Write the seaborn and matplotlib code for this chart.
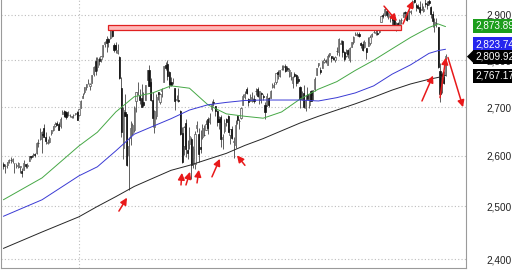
import numpy as np
import pandas as pd
import seaborn as sns
import matplotlib
matplotlib.use("Agg")
import matplotlib.pyplot as plt
from matplotlib.patches import Rectangle, Polygon
from matplotlib.ticker import FixedLocator, FixedFormatter, NullLocator

# ---- daily OHLC, S&P 500, Nov 1 2017 .. Oct 16 2018 (41 days in 2017, 200 in 2018) ----
opens = [2583,2579,2581,2587,2592,2590,2585,2580,2577,2577,2570,2572,2583,2580,2589,2600,2600,2603,2606,2627,2634,
         2645,2657,2639,2627,2628,2646,2652,2661,2667,2665,2660,2685,2692,2689,2683,2683,2680,2683,2686,2690,
         2684,2698,2719,2731,2743,2751,2745,2752,2771,2799,2785,2803,2803,2809,2836,2846,2846,2848,2867,2833,2833,
         2816,2808,2741,2615,2690,2686,2602,2636,2646,2652,2713,2728,2723,2720,2711,2716,2758,2780,2754,
         2716,2659,2681,2731,2711,2733,2753,2790,2792,2775,2754,2750,2741,2715,2715,2692,2646,2619,2668,2611,2625,
         2634,2596,2584,2657,2645,2618,2638,2643,2653,2675,2670,2697,2711,2702,2693,2675,2680,2635,2651,2675,2682,
         2643,2654,2628,2622,2681,2671,2678,2705,2722,2738,2718,2712,2719,2718,2735,2739,2714,2730,2724,2705,2702,2720,
         2719,2742,2748,2754,2775,2765,2781,2785,2787,2784,2777,2766,2752,2770,2769,2760,2743,2722,2729,2699,2727,
         2704,2733,2725,2738,2769,2789,2780,2784,2797,2799,2789,2811,2809,2805,2800,2821,2817,2836,2842,2819,2810,
         2822,2800,2829,2840,2856,2857,2858,2838,2836,2828,2827,2831,2838,2853,2861,2860,2860,2862,2885,2901,2900,2909,2898,
         2897,2892,2889,2868,2881,2871,2888,2896,2906,2903,2890,2906,2919,2937,2922,2921,2917,2912,2910,
         2926,2924,2932,2919,2903,2878,2883,2874,2777,2770,2763,2768]
highs = [2588,2583,2588,2593,2598,2595,2586,2585,2587,2579,2576,2591,2583,2585,2600,2600,2605,2606,2628,2635,2657,
         2650,2665,2648,2634,2641,2652,2660,2669,2671,2669,2680,2695,2694,2692,2693,2685,2682,2685,2688,2693,
         2696,2715,2729,2743,2749,2760,2750,2768,2788,2808,2807,2806,2810,2833,2843,2853,2848,2873,2871,2838,2840,
         2836,2809,2763,2701,2728,2686,2639,2672,2668,2702,2731,2754,2738,2748,2732,2747,2780,2789,2761,
         2731,2694,2728,2732,2730,2741,2787,2797,2801,2777,2763,2762,2741,2725,2740,2695,2658,2661,2675,2632,2659,
         2638,2619,2650,2672,2656,2653,2665,2662,2674,2680,2687,2713,2717,2703,2694,2682,2684,2645,2676,2677,2683,
         2655,2661,2638,2673,2684,2676,2701,2727,2733,2742,2719,2728,2732,2726,2740,2742,2734,2731,2728,2710,2729,2722,
         2736,2750,2753,2773,2779,2779,2790,2790,2791,2787,2783,2775,2765,2775,2770,2765,2744,2733,2747,2725,2743,
         2727,2737,2737,2764,2784,2795,2786,2799,2805,2802,2814,2816,2810,2810,2809,2829,2848,2845,2844,2821,2825,
         2825,2829,2841,2853,2863,2863,2862,2841,2843,2844,2827,2851,2855,2860,2873,2867,2868,2876,2898,2904,2916,2912,2907,
         2901,2894,2893,2884,2884,2892,2894,2907,2909,2904,2912,2912,2935,2941,2926,2924,2931,2928,2920,
         2937,2932,2939,2920,2910,2894,2894,2874,2795,2775,2776,2814]
lows  = [2574,2566,2576,2585,2585,2585,2566,2576,2576,2566,2557,2572,2576,2575,2589,2594,2598,2598,2603,2618,2633,
         2606,2639,2625,2625,2627,2642,2651,2658,2662,2652,2657,2685,2680,2675,2682,2679,2677,2678,2684,2673,
         2682,2698,2719,2728,2737,2748,2736,2752,2766,2769,2776,2789,2797,2808,2828,2817,2830,2846,2851,2819,2816,
         2814,2760,2638,2593,2681,2580,2533,2622,2643,2648,2689,2725,2706,2700,2700,2716,2758,2744,2713,
         2659,2647,2676,2715,2707,2721,2753,2780,2758,2741,2744,2749,2694,2713,2710,2642,2586,2601,2597,2594,2614,
         2554,2575,2573,2649,2587,2605,2635,2640,2653,2645,2666,2691,2703,2682,2661,2655,2617,2613,2647,2660,2648,
         2625,2635,2595,2615,2664,2655,2675,2705,2718,2727,2702,2712,2711,2708,2726,2721,2707,2708,2714,2676,2702,2700,
         2719,2740,2740,2749,2760,2763,2779,2780,2775,2777,2763,2757,2741,2763,2744,2750,2699,2714,2699,2692,2718,
         2698,2713,2715,2733,2769,2786,2771,2784,2793,2793,2789,2806,2796,2800,2796,2811,2810,2835,2808,2799,2807,
         2805,2796,2828,2835,2855,2853,2852,2826,2820,2827,2802,2831,2834,2850,2859,2856,2855,2859,2885,2893,2898,2895,2892,
         2885,2877,2871,2864,2870,2866,2879,2895,2896,2886,2890,2903,2919,2927,2909,2913,2903,2911,2907,
         2918,2913,2922,2893,2874,2862,2874,2784,2710,2729,2749,2767]
closes = [2579,2580,2588,2591,2591,2594,2585,2582,2585,2579,2565,2586,2579,2582,2599,2597,2602,2601,2627,2626,2648,
          2642,2639,2630,2629,2637,2652,2660,2664,2663,2652,2676,2690,2681,2679,2685,2683,2680,2683,2688,2674,
          2696,2713,2724,2743,2748,2751,2748,2768,2786,2776,2803,2798,2810,2833,2839,2838,2839,2873,2854,2822,2824,
          2822,2762,2649,2695,2682,2581,2620,2656,2663,2699,2731,2732,2716,2701,2704,2747,2780,2744,2714,
          2678,2691,2721,2728,2727,2739,2787,2783,2765,2749,2747,2752,2713,2717,2712,2644,2588,2659,2613,2605,2641,
          2582,2614,2645,2663,2604,2613,2657,2642,2664,2656,2678,2706,2709,2693,2670,2670,2635,2639,2667,2670,2648,
          2655,2636,2630,2663,2673,2672,2698,2723,2728,2730,2711,2722,2720,2713,2733,2724,2733,2728,2721,2690,2724,2705,
          2735,2747,2749,2772,2770,2779,2782,2787,2776,2782,2780,2774,2763,2767,2750,2755,2717,2723,2700,2716,2718,
          2727,2713,2737,2760,2784,2794,2774,2798,2801,2798,2810,2816,2804,2802,2807,2820,2846,2837,2819,2803,2816,
          2813,2827,2840,2850,2858,2858,2854,2833,2822,2840,2818,2841,2850,2857,2863,2862,2857,2875,2897,2898,2914,2901,2902,
          2897,2889,2878,2872,2877,2888,2889,2904,2905,2889,2904,2908,2931,2930,2919,2916,2906,2914,2914,
          2925,2923,2926,2902,2886,2884,2881,2786,2728,2767,2751,2810]

# ---- moving averages (trading-day index, 0 = Jan 2 2018) ----
ma_idx = [-41, -20, 0, 10, 20, 30, 40, 50, 60, 70, 80, 90, 100, 110, 120, 130, 140, 150, 160, 170, 180, 190, 195, 199]
ma50  = [2513, 2556, 2620, 2648, 2690, 2722, 2730, 2745, 2740, 2705, 2686, 2681, 2677, 2690, 2717, 2738, 2754, 2778,
         2800, 2825, 2850, 2872, 2880, 2874]
ma100 = [2481, 2513, 2560, 2578, 2610, 2644, 2660, 2676, 2694, 2705, 2710, 2714, 2715, 2715, 2715, 2713, 2720, 2730,
         2745, 2770, 2790, 2815, 2821, 2824]
ma200 = [2420, 2451, 2480, 2500, 2519, 2539, 2555, 2571, 2581, 2593, 2605, 2621, 2635, 2651, 2667, 2681, 2694, 2707,
         2721, 2736, 2749, 2759, 2763, 2767]

ytick_vals = [2400, 2500, 2600, 2700, 2800, 2900]
ytick_labels = ["2,400", "2,500", "2,600", "2,700", "2,800", "2,900"]

last_labels = ["2,873.89", "2,823.74", "2,809.92", "2,767.17"]
last_label_pos = [2876, 2835, 2808, 2767]
last_label_colors = ["#1c9e1c", "#2626ee", "#000000", "#000000"]

sns.set_style("white")
plt.rcParams["font.family"] = ["Liberation Sans", "DejaVu Sans"]

fig = plt.figure(figsize=(5.12, 2.70), dpi=100)
ax = fig.add_axes([1/512, 2/270, 465/512, 268/270])
ax.set_yscale("log")

o = np.array(opens, float); h = np.array(highs, float)
l = np.array(lows, float); c = np.array(closes, float)
x = np.arange(len(c)) - 41
up = c >= o

for v in ytick_vals:
    ax.axhline(v, color="#bdbdbd", lw=0.8, ls=(0, (1, 2)), zorder=1)
ax.axvline(0, color="#bdbdbd", lw=0.8, ls=(0, (1, 2)), zorder=1)

ax.vlines(x, l, h, color="#444444", lw=0.6, zorder=2)
body_h = np.maximum(np.abs(c - o), 1.0)
body_b = np.minimum(o, c)
ax.bar(x[up], body_h[up], bottom=body_b[up], width=0.62, color="#f4f4f4", edgecolor="#555555", lw=0.5, zorder=3)
ax.bar(x[~up], body_h[~up], bottom=body_b[~up], width=0.62, color="#111111", edgecolor="#111111", lw=0.5, zorder=3)

df = pd.DataFrame({"i": ma_idx, "ma50": ma50, "ma100": ma100, "ma200": ma200})
sns.lineplot(data=df, x="i", y="ma50", ax=ax, color="#46a846", lw=0.7, zorder=4)
sns.lineplot(data=df, x="i", y="ma100", ax=ax, color="#3a3ad4", lw=0.7, zorder=4)
sns.lineplot(data=df, x="i", y="ma200", ax=ax, color="#262626", lw=0.7, zorder=4)

# resistance band
ax.add_patch(Rectangle((15.8, 2867), 159.0, 10, facecolor="#ffb8b8", edgecolor="#e02020", lw=0.9, zorder=5))

red = "#e8191a"
arrows = [((21.7, 2491), (26.1, 2517)), ((55.4, 2542), (55.9, 2566)), ((58.1, 2542), (60.3, 2568)),
          ((64.1, 2546), (65.1, 2572)), ((72.2, 2558), (76.5, 2594)), ((90.1, 2581), (85.8, 2601)),
          ((186.2, 2713), (192.2, 2767)), ((196.0, 2720), (199.2, 2806)), ((200.3, 2806), (208.5, 2700)),
          ((165.6, 2920), (172.6, 2886)), ((175.9, 2880), (181.3, 2932))]
for s, e in arrows:
    ax.annotate("", xy=e, xytext=s,
                arrowprops=dict(arrowstyle="-|>,head_length=0.5,head_width=0.25", color=red, lw=1.1,
                                shrinkA=0, shrinkB=0, mutation_scale=8),
                annotation_clip=False, zorder=6)

ax.set_xlim(-42.3, 210.1)
ax.set_ylim(2383.5, 2933.9)
ax.set_xlabel(""); ax.set_ylabel("")
ax.set_xticks([])
ax.yaxis.set_major_locator(FixedLocator(ytick_vals))
ax.yaxis.set_major_formatter(FixedFormatter(ytick_labels))
ax.yaxis.set_minor_locator(NullLocator())
ax.yaxis.tick_right()
ax.tick_params(axis="y", length=0, pad=15, labelsize=7.2, labelcolor="#222222")
ax.spines["top"].set_visible(False)
for sp in ["left", "right", "bottom"]:
    ax.spines[sp].set_color("#9a9a9a")
    ax.spines[sp].set_linewidth(0.8)

tr = ax.get_yaxis_transform()
for s, yv, col in zip(last_labels, last_label_pos, last_label_colors):
    ax.text(1.0194, yv, s, transform=tr, va="center", ha="left", color="white", fontsize=7.2,
            bbox=dict(boxstyle="square,pad=0.2", fc=col, ec="none"), clip_on=False, zorder=10)
yv = last_label_pos[2]
ax.add_patch(Polygon([(1.002, yv), (1.016, yv * np.exp(6.5 / 1290)), (1.016, yv * np.exp(-6.5 / 1290))],
                     closed=True, transform=tr, facecolor="black", edgecolor="none", clip_on=False, zorder=10))

fig.savefig("out.png", dpi=100)
